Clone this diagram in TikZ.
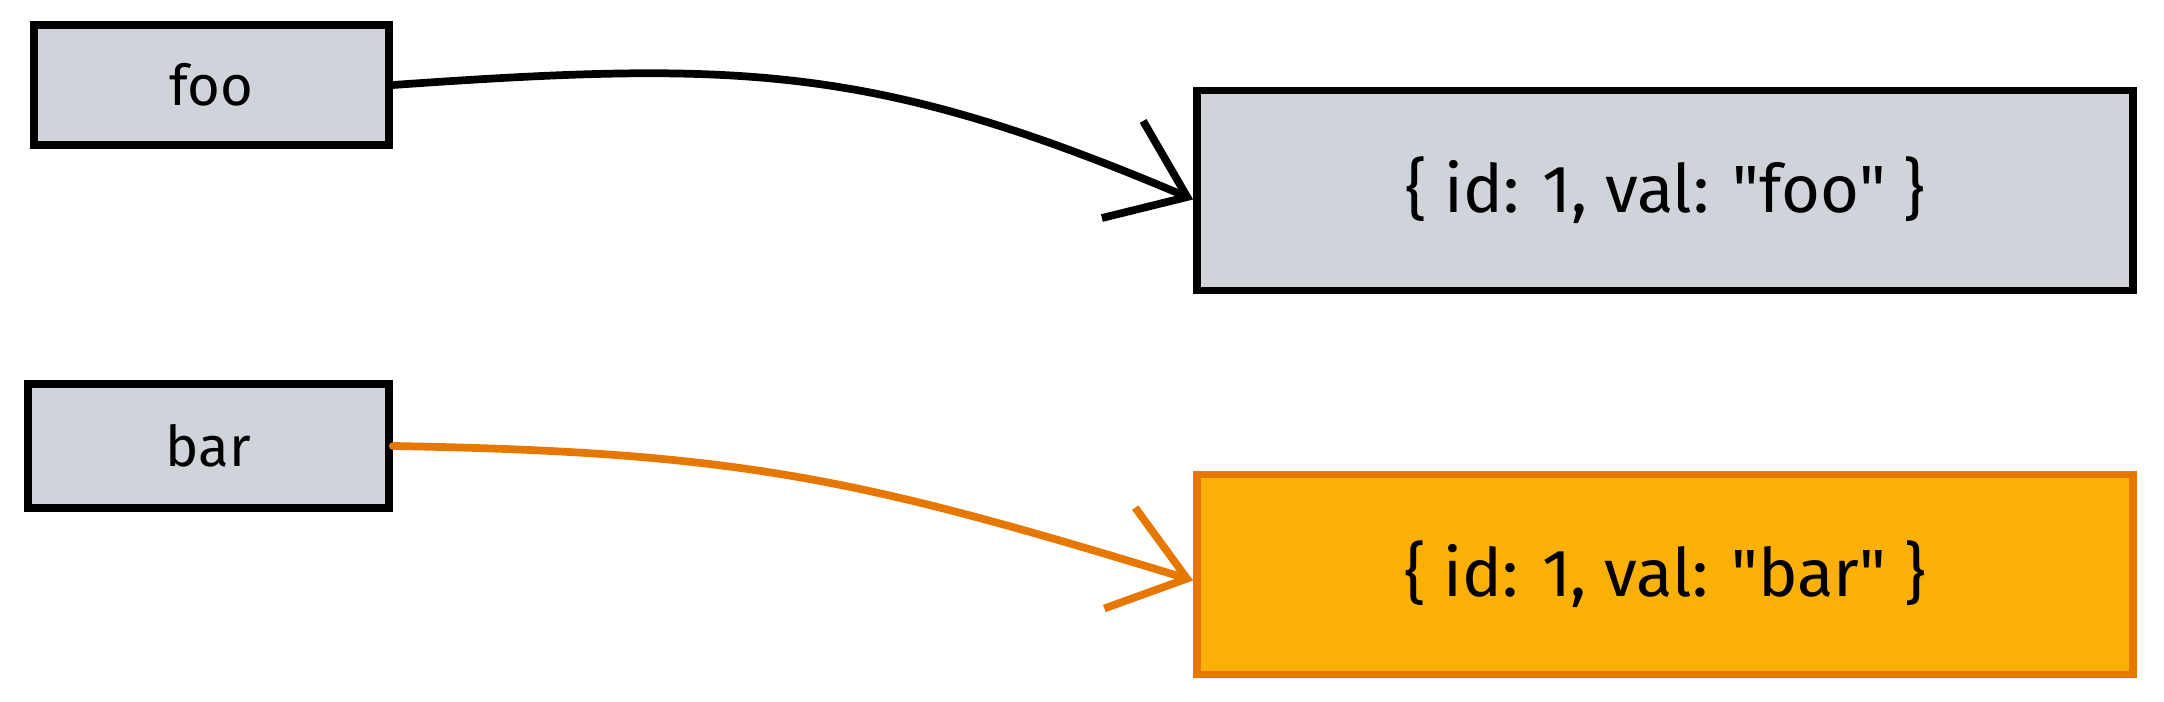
\documentclass[tikz,border=0pt]{standalone}
\usepackage{fontspec}
\setmainfont{Fira Sans}
\usetikzlibrary{arrows.meta}
\definecolor{boxgray}{HTML}{CED4DA}
\definecolor{hiliteorange}{HTML}{FAB005}
\definecolor{hilitestroke}{HTML}{E67700}

\begin{document}
\begin{tikzpicture}[line width=2.2pt,
        varbox/.style={draw=black, fill=boxgray, font=\fontsize{16}{18}\selectfont},
        objbox/.style={draw=black, fill=boxgray, minimum width=9.36cm, minimum height=2cm, font=\fontsize{19}{21}\selectfont},
        ref/.style={-{Straight Barb[length=20pt,width=30pt]}, line cap=round}]
        \useasboundingbox(0,0)rectangle(21.64,-7.02);
        % variables
        \node[varbox, minimum width=3.55cm, minimum height=1.2cm](foo)at(2.115,-0.85){foo};
        \node[varbox, minimum width=3.61cm, minimum height=1.24cm](bar)at(2.085,-4.46){bar};
        % objects
        \node[objbox](fooobj)at(16.65,-1.905){\{ id: 1, val: \textquotedbl foo\textquotedbl\ \}};
        \node[objbox, fill=hiliteorange, draw=hilitestroke](barobj)at(16.65,-5.745){\{ id: 1, val: \textquotedbl bar\textquotedbl\ \}};

        \path[draw, ref](foo.east)to[out=4, in=157, looseness=1.1]([yshift=-0.09cm]fooobj.west);
        \path[draw, ref, hilitestroke](bar.east)to[out=-1, in=163, looseness=1.1]([yshift=-0.06cm]barobj.west);
    \end{tikzpicture}
\end{document}
